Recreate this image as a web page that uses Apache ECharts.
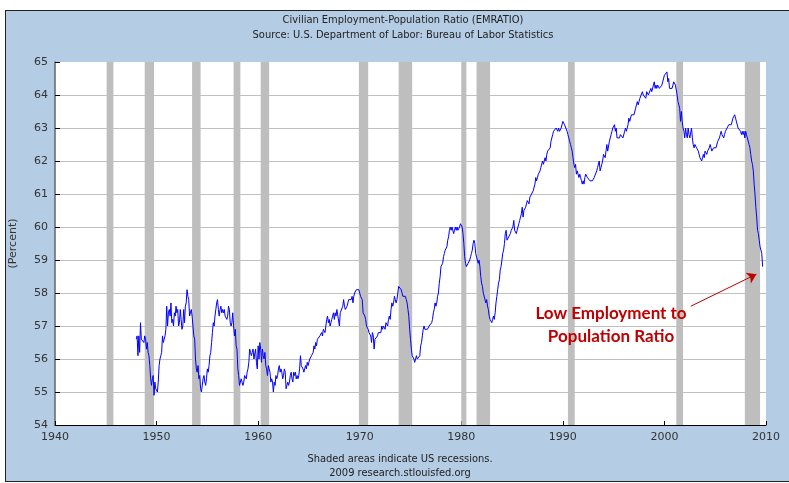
<!DOCTYPE html>
<html>
<head>
<meta charset="utf-8">
<script src="https://cdn.jsdelivr.net/npm/echarts@6/dist/echarts.min.js"></script>
<style>
  html, body { margin: 0; padding: 0; width: 789px; height: 483px; overflow: hidden; background: #ffffff; }
  #panel { position: absolute; left: 5px; top: 10px; width: 820px; height: 470px; background: #B4CCE4; border: 1px solid #222; }
  #chart { position: absolute; left: 0; top: 0; width: 789px; height: 483px; }
</style>
</head>
<body>
<div id="panel"></div>
<div id="chart"></div>
<script>
// ---- Data: Civilian Employment-Population Ratio, monthly, starting Jan 1948 ----
const startYear = 1948;
const y1948 = [56.6, 56.7, 56.1, 56.7, 56.2, 57.1, 56.6, 56.6, 56.6, 56.5, 56.7, 56.6];
const y1949 = [56.3, 56.5, 56.2, 56.1, 55.8, 55.4, 55.2, 55.4, 55.5, 54.9, 55.3, 55.1];
const y1950 = [55.1, 55.0, 55.3, 55.8, 56.0, 56.1, 56.2, 56.7, 56.5, 56.6, 56.7, 56.9];
const y1951 = [57.6, 57.0, 57.4, 57.5, 57.3, 57.7, 57.1, 57.2, 57.0, 57.4, 57.3, 57.6];
const y1952 = [57.4, 57.5, 57.0, 57.1, 57.5, 57.2, 56.9, 57.0, 57.5, 57.1, 57.6, 57.7];
const y1953 = [58.1, 57.9, 57.8, 57.3, 57.4, 57.5, 57.3, 57.0, 56.7, 56.6, 56.0, 55.7];
const y1954 = [55.6, 55.8, 55.4, 55.5, 55.1, 55.0, 55.2, 55.4, 55.5, 55.3, 55.2, 55.4];
const y1955 = [55.7, 55.6, 55.8, 56.1, 56.2, 56.5, 56.8, 57.1, 57.0, 57.3, 57.5, 57.7];
const y1956 = [57.8, 57.5, 57.3, 57.5, 57.6, 57.4, 57.5, 57.4, 57.5, 57.3, 57.3, 57.2];
const y1957 = [57.3, 57.6, 57.5, 57.1, 57.0, 57.1, 57.4, 57.0, 56.7, 56.9, 56.4, 56.3];
const y1958 = [55.7, 55.5, 55.2, 55.3, 55.4, 55.3, 55.2, 55.3, 55.5, 55.5, 55.4, 55.6];
const y1959 = [55.7, 55.9, 56.3, 56.2, 56.1, 56.2, 56.3, 56.0, 56.0, 56.3, 55.9, 55.7];
const y1960 = [56.4, 56.0, 56.5, 56.3, 55.9, 56.3, 56.1, 56.0, 56.2, 55.8, 55.7, 55.5];
const y1961 = [55.8, 55.7, 55.6, 55.3, 55.4, 55.3, 55.0, 55.3, 55.2, 55.5, 55.4, 55.5];
const y1962 = [55.7, 55.8, 55.6, 55.7, 55.6, 55.4, 55.5, 55.7, 55.6, 55.1, 55.2, 55.3];
const y1963 = [55.2, 55.3, 55.5, 55.6, 55.4, 55.3, 55.6, 55.5, 55.6, 55.4, 55.5, 55.4];
const y1964 = [55.5, 55.7, 56.1, 55.8, 55.8, 55.7, 55.6, 55.7, 55.8, 55.7, 55.9, 55.8];
const y1965 = [55.9, 56.0, 56.0, 56.1, 56.1, 56.2, 56.4, 56.3, 56.5, 56.4, 56.6, 56.6];
const y1966 = [56.6, 56.7, 56.7, 56.8, 56.7, 56.9, 56.9, 56.8, 57.0, 57.2, 57.3, 57.1];
const y1967 = [57.2, 57.0, 57.1, 57.2, 57.3, 57.4, 57.2, 57.4, 57.3, 57.5, 57.5, 57.5];
const y1968 = [57.0, 57.4, 57.4, 57.4, 57.6, 57.8, 57.6, 57.5, 57.5, 57.6, 57.7, 57.8];
const y1969 = [57.8, 57.8, 57.8, 57.9, 57.7, 57.9, 58.0, 58.0, 58.1, 58.1, 58.1, 58.1];
const y1970 = [58.0, 57.9, 57.9, 57.8, 57.4, 57.4, 57.3, 57.2, 57.0, 57.0, 56.9, 56.8];
const y1971 = [56.8, 56.7, 56.5, 56.8, 56.7, 56.3, 56.6, 56.6, 56.6, 56.7, 56.8, 56.8];
const y1972 = [56.8, 56.8, 57.0, 56.9, 57.0, 57.0, 56.9, 57.1, 57.1, 57.0, 57.2, 57.3];
const y1973 = [57.2, 57.5, 57.7, 57.6, 57.7, 57.9, 57.8, 57.7, 57.8, 58.0, 58.2, 58.2];
const y1974 = [58.2, 58.1, 58.1, 57.9, 57.9, 57.9, 57.9, 57.8, 57.7, 57.5, 57.3, 56.9];
const y1975 = [56.6, 56.3, 56.1, 56.1, 56.0, 55.9, 56.0, 56.1, 56.0, 56.0, 56.0, 56.1];
const y1976 = [56.4, 56.5, 56.7, 56.9, 57.0, 56.9, 56.9, 56.9, 56.9, 56.9, 57.0, 57.0];
const y1977 = [57.0, 57.1, 57.2, 57.4, 57.5, 57.7, 57.6, 57.7, 57.9, 58.0, 58.3, 58.5];
const y1978 = [58.8, 58.8, 58.9, 59.1, 59.2, 59.3, 59.3, 59.4, 59.6, 59.7, 59.9, 60.0];
const y1979 = [59.9, 60.0, 60.0, 59.8, 59.9, 60.0, 59.9, 60.0, 59.9, 59.9, 60.0, 60.1];
const y1980 = [60.1, 60.0, 59.8, 59.5, 59.1, 58.9, 58.8, 58.8, 58.9, 58.9, 59.0, 59.1];
const y1981 = [59.2, 59.3, 59.5, 59.6, 59.5, 59.2, 59.2, 59.2, 58.9, 59.0, 58.8, 58.5];
const y1982 = [58.3, 58.2, 58.0, 58.0, 58.0, 57.7, 57.8, 57.6, 57.5, 57.3, 57.2, 57.2];
const y1983 = [57.1, 57.2, 57.3, 57.2, 57.4, 57.7, 57.9, 58.1, 58.3, 58.4, 58.7, 58.8];
const y1984 = [59.0, 59.2, 59.3, 59.5, 59.8, 59.9, 59.6, 59.6, 59.7, 59.7, 59.8, 59.9];
const y1985 = [59.9, 60.0, 60.2, 59.9, 59.9, 59.8, 59.9, 60.0, 60.1, 60.2, 60.3, 60.4];
const y1986 = [60.6, 60.3, 60.5, 60.5, 60.6, 60.7, 60.8, 60.8, 60.7, 60.9, 60.9, 61.0];
const y1987 = [61.0, 61.1, 61.1, 61.3, 61.5, 61.4, 61.5, 61.6, 61.6, 61.7, 61.8, 61.8];
const y1988 = [62.0, 61.9, 61.9, 62.1, 62.0, 62.2, 62.3, 62.3, 62.3, 62.4, 62.6, 62.6];
const y1989 = [62.8, 62.9, 62.9, 62.9, 63.0, 63.0, 62.9, 63.0, 62.9, 62.9, 63.0, 63.0];
const y1990 = [63.2, 63.2, 63.1, 63.1, 63.1, 62.9, 62.8, 62.7, 62.6, 62.5, 62.4, 62.3];
const y1991 = [62.1, 61.9, 61.8, 61.9, 61.6, 61.7, 61.6, 61.5, 61.6, 61.5, 61.4, 61.3];
const y1992 = [61.4, 61.3, 61.5, 61.6, 61.6, 61.5, 61.5, 61.5, 61.4, 61.4, 61.4, 61.4];
const y1993 = [61.4, 61.5, 61.5, 61.5, 61.7, 61.8, 61.8, 62.0, 61.7, 61.8, 61.9, 62.0];
const y1994 = [62.2, 62.2, 62.1, 62.3, 62.5, 62.3, 62.3, 62.6, 62.6, 62.8, 62.9, 63.0];
const y1995 = [63.0, 63.1, 62.9, 63.0, 62.7, 62.7, 62.7, 62.7, 62.8, 62.8, 62.8, 62.7];
const y1996 = [62.7, 62.9, 63.0, 62.9, 63.0, 63.1, 63.3, 63.2, 63.3, 63.4, 63.4, 63.4];
const y1997 = [63.4, 63.4, 63.6, 63.7, 63.8, 63.7, 63.8, 63.9, 63.9, 63.9, 64.1, 64.0];
const y1998 = [64.0, 64.0, 63.9, 64.1, 64.1, 64.0, 64.0, 64.0, 64.2, 64.1, 64.1, 64.3];
const y1999 = [64.4, 64.2, 64.3, 64.2, 64.3, 64.3, 64.2, 64.2, 64.2, 64.3, 64.4, 64.4];
const y2000 = [64.6, 64.6, 64.6, 64.7, 64.4, 64.5, 64.2, 64.2, 64.2, 64.2, 64.3, 64.4];
const y2001 = [64.4, 64.3, 64.3, 64.0, 63.8, 63.7, 63.6, 63.2, 63.5, 63.2, 63.0, 62.9];
const y2002 = [62.7, 63.0, 62.8, 62.7, 63.0, 62.8, 62.7, 62.7, 63.0, 62.7, 62.5, 62.4];
const y2003 = [62.5, 62.5, 62.4, 62.4, 62.3, 62.3, 62.1, 62.1, 62.0, 62.1, 62.2, 62.1];
const y2004 = [62.3, 62.3, 62.2, 62.3, 62.3, 62.4, 62.5, 62.4, 62.3, 62.3, 62.4, 62.4];
const y2005 = [62.4, 62.4, 62.4, 62.6, 62.6, 62.7, 62.8, 62.9, 62.8, 62.8, 62.7, 62.8];
const y2006 = [62.9, 62.9, 63.0, 63.0, 63.1, 63.1, 63.1, 63.1, 63.1, 63.3, 63.3, 63.4];
const y2007 = [63.3, 63.3, 63.3, 63.0, 63.0, 63.0, 62.9, 62.8, 62.9, 62.8, 62.9, 62.7];
const y2008 = [62.9, 62.8, 62.7, 62.7, 62.5, 62.4, 62.2, 62.0, 61.9, 61.7, 61.3, 61.0];
const y2009 = [60.6, 60.3, 59.9, 59.8, 59.6, 59.4, 59.4, 59.2, 58.8];

const yearly = [y1948, y1949, y1950, y1951, y1952, y1953, y1954, y1955, y1956, y1957,
  y1958, y1959, y1960, y1961, y1962, y1963, y1964, y1965, y1966, y1967,
  y1968, y1969, y1970, y1971, y1972, y1973, y1974, y1975, y1976, y1977,
  y1978, y1979, y1980, y1981, y1982, y1983, y1984, y1985, y1986, y1987,
  y1988, y1989, y1990, y1991, y1992, y1993, y1994, y1995, y1996, y1997,
  y1998, y1999, y2000, y2001, y2002, y2003, y2004, y2005, y2006, y2007,
  y2008, y2009];

// NBER recessions (peak month, trough month)
const recessionStarts = ['1945-02', '1948-11', '1953-07', '1957-08', '1960-04', '1969-12', '1973-11', '1980-01', '1981-07', '1990-07', '2001-03', '2007-12'];
const recessionEnds   = ['1945-10', '1949-10', '1954-05', '1958-04', '1961-02', '1970-11', '1975-03', '1980-07', '1982-11', '1991-03', '2001-11', '2009-06'];

const xMin = 1940, xMax = 2010, xStep = 10;
const yMin = 54, yMax = 65, yStep = 1;

const titleText = 'Civilian Employment-Population Ratio (EMRATIO)';
const subtitleText = 'Source: U.S. Department of Labor: Bureau of Labor Statistics';
const footer1 = 'Shaded areas indicate US recessions.';
const footer2 = '2009 research.stlouisfed.org';
const yName = '(Percent)';
const noteText = 'Low Employment to\nPopulation Ratio';
const arrowFrom = [2002.6, 57.6];
const arrowTo = [2009.05, 58.57];

// ---- Build series ----
const lineData = [];
yearly.forEach((arr, yi) => {
  arr.forEach((v, m) => lineData.push([startYear + yi + m / 12, v]));
});
function ym(s) {
  const [y, m] = s.split('-').map(Number);
  return y + (m - 1) / 12;
}
const recAreas = recessionStarts.map((s, i) => [{ xAxis: ym(s) }, { xAxis: ym(recessionEnds[i]) }]);

const smallFont = 'DejaVu Sans';
const condFont = "'DejaVu Sans Condensed', 'Liberation Sans Narrow', 'Liberation Sans'";

const chart = echarts.init(document.getElementById('chart'), null, { renderer: 'canvas' });
chart.setOption({
  backgroundColor: 'transparent',
  animation: false,
  grid: { left: 53, right: 23, top: 62, bottom: 58, show: true, backgroundColor: '#ffffff', borderWidth: 0 },
  xAxis: {
    type: 'value', min: xMin, max: xMax, interval: xStep,
    axisLine: { lineStyle: { color: '#000', width: 1 } },
    axisTick: { inside: true, length: 4, lineStyle: { color: '#000' } },
    axisLabel: { color: '#333', fontSize: 11, fontFamily: smallFont, margin: 7, formatter: v => String(v) },
    splitLine: { show: false }
  },
  yAxis: {
    type: 'value', min: yMin, max: yMax, interval: yStep,
    name: yName, nameLocation: 'middle', nameGap: 36, nameRotate: 90,
    nameTextStyle: { color: '#333', fontSize: 11, fontFamily: smallFont },
    axisLine: { show: true, lineStyle: { color: '#666', width: 1.5 } },
    axisTick: { show: true, inside: true, length: 5, lineStyle: { color: '#000' } },
    axisLabel: { color: '#333', fontSize: 11, fontFamily: smallFont, margin: 7, formatter: v => String(v) },
    splitLine: { show: true, showMaxLine: false, showMinLine: false, lineStyle: { color: '#C0C0C0', width: 1 } }
  },
  graphic: [
    { type: 'text', x: 403, y: 20, style: { text: titleText, textAlign: 'center', textVerticalAlign: 'middle', fill: '#222', font: "11px " + condFont } },
    { type: 'text', x: 403, y: 35, style: { text: subtitleText, textAlign: 'center', textVerticalAlign: 'middle', fill: '#222', font: "11px " + condFont } },
    { type: 'text', x: 400, y: 459, style: { text: footer1, textAlign: 'center', textVerticalAlign: 'middle', fill: '#222', font: "11px " + condFont } },
    { type: 'text', x: 400, y: 473, style: { text: footer2, textAlign: 'center', textVerticalAlign: 'middle', fill: '#222', font: "11px " + condFont } },
    { type: 'text', x: 611, y: 325, z: 100, style: { text: noteText, textAlign: 'center', textVerticalAlign: 'middle', fill: '#C00000', font: "bold 17px Lato", lineHeight: 23 } }
  ],
  series: [
    {
      type: 'line', data: [], z: 1, silent: true,
      markArea: { silent: true, itemStyle: { color: '#BEBEBE', opacity: 1 }, data: recAreas }
    },
    {
      type: 'line', data: lineData, z: 3, showSymbol: false, symbol: 'none',
      lineStyle: { color: '#0000FF', width: 1 }, itemStyle: { color: '#0000FF' }
    },
    {
      type: 'line', data: [], z: 5, silent: true,
      markLine: {
        silent: true, symbol: ['none', 'arrow'], symbolSize: 9,
        lineStyle: { color: '#C00000', width: 1, type: 'solid' },
        itemStyle: { color: '#C00000' },
        label: { show: false },
        data: [[{ coord: arrowFrom }, { coord: arrowTo }]]
      }
    }
  ]
});
</script>
</body>
</html>
